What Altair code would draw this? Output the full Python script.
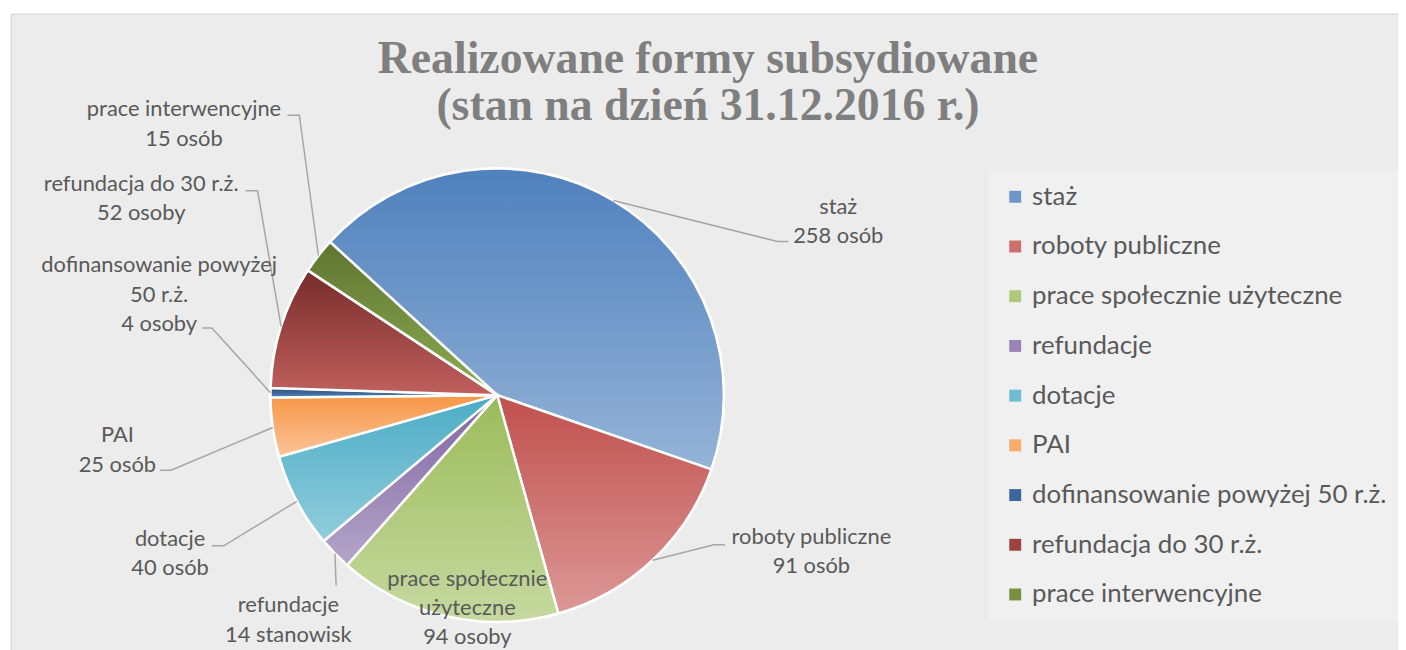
import math
import altair as alt
import pandas as pd

# ---------------- data ----------------
categories = [
    "staż",
    "roboty publiczne",
    "prace społecznie użyteczne",
    "refundacje",
    "dotacje",
    "PAI",
    "dofinansowanie powyżej 50 r.ż.",
    "refundacja do 30 r.ż.",
    "prace interwencyjne",
]
values = [258, 91, 94, 14, 40, 25, 4, 52, 15]
label_lines = [
    ["staż", "258 osób"],
    ["roboty publiczne", "91 osób"],
    ["prace społecznie", "użyteczne", "94 osoby"],
    ["refundacje", "14 stanowisk"],
    ["dotacje", "40 osób"],
    ["PAI", "25 osób"],
    ["dofinansowanie powyżej", "50 r.ż.", "4 osoby"],
    ["refundacja do 30 r.ż.", "52 osoby"],
    ["prace interwencyjne", "15 osób"],
]
title_lines = ["Realizowane formy subsydiowane", "(stan na dzień 31.12.2016 r.)"]

# ---------------- styles ----------------
colors_legend = ["#6f96c9", "#cc6f6d", "#afc97a", "#9a84b5", "#6fbdd2",
                 "#f8ab6b", "#3c65a0", "#9e4240", "#76903f"]
colors_top = ["#4f81bd", "#c0504d", "#9bbb59", "#8064a2", "#4bacc6",
              "#f79646", "#2c4d75", "#772c2a", "#5f7530"]
colors_bottom = ["#95b3d7", "#dc9896", "#c6d9a0", "#b4a5c9", "#92cddc",
                 "#fbc49a", "#4f81bd", "#c0605d", "#8cab52"]

TEXT = "#595959"
LEADER = "#a6a6a6"
FONT = "Lato"

# layout (page pixels); view origin on the page
OX, OY = 11, 12
CX, CY, R = 500, 395.5, 228
START_DEG = -47.5
LINE_H = 29.5
# label anchor (centre of first line) and leader elbow/tail, page pixels
label_pos = [(843, 206), (816, 538), (470, 580), (290, 607), (171, 540),
             (118, 436), (160, 265), (142, 183), (185, 108)]
leader_pts = [(782, 241, 793), (718, 546, 729), None, (338, 587, 338),
              (225, 547, 213), (172, 471, 161), (213, 328, 203),
              (259, 190, 247), (301, 114, 289)]

W, H = 1395, 646

# ---------------- tables ----------------
total = sum(values)
cum = 0
rows = []
for i, (c, v) in enumerate(zip(categories, values)):
    rows.append({"cat": c, "value": v, "start": cum, "end": cum + v, "order": i})
    cum += v
df = pd.DataFrame(rows)

a0 = math.radians(START_DEG)
theta_scale = alt.Scale(domain=[0, total], range=[a0, a0 + 2 * math.pi])

cx, cy = CX - OX, CY - OY

line_rows = []
for i, r in df.iterrows():
    if leader_pts[i] is None:
        continue
    mid = a0 + (r["start"] + r["value"] / 2) / total * 2 * math.pi
    ex = cx + R * math.sin(mid)
    ey = cy - R * math.cos(mid)
    bx, by, tx = leader_pts[i]
    pts = [(ex, ey), (bx - OX, by - OY), (tx - OX, by - OY)]
    for k, (px, py) in enumerate(pts):
        line_rows.append({"cat": r["cat"], "k": k, "x": px, "y": py})
lines_df = pd.DataFrame(line_rows)

text_rows = []
for i, lines in enumerate(label_lines):
    lx, ly = label_pos[i]
    for j, t in enumerate(lines):
        text_rows.append({"t": t, "x": lx - OX, "y": ly - OY + j * LINE_H})
text_df = pd.DataFrame(text_rows)

title_df = pd.DataFrame({"t": title_lines,
                         "x": [712 - OX, 712 - OX],
                         "y": [72 - OY, 119 - OY]})

# ---------------- chart ----------------
base = alt.Chart(df)

arc_kw = dict(x=cx, y=cy, outerRadius=R, stroke="white", strokeWidth=2.5)

solid = base.mark_arc(**arc_kw).encode(
    theta=alt.Theta("start:Q", scale=theta_scale),
    theta2="end:Q",
    color=alt.Color(
        "cat:N",
        scale=alt.Scale(domain=categories, range=colors_legend),
        sort=categories,
        legend=alt.Legend(
            title=None, orient="none", legendX=983, legendY=157,
            symbolType="square", symbolSize=144, symbolStrokeWidth=0,
            labelFont=FONT, labelFontSize=26, labelColor=TEXT,
            labelOffset=4, labelLimit=600, rowPadding=24, padding=14,
            fillColor="#f0f0f0",
        ),
    ),
)

grad_layers = []
for i, c in enumerate(categories):
    g = alt.LinearGradient(
        gradient="linear", x1=0, y1=0, x2=0, y2=1,
        stops=[alt.GradientStop(color=colors_top[i], offset=0),
               alt.GradientStop(color=colors_bottom[i], offset=1)],
    )
    grad_layers.append(
        base.transform_filter(alt.datum.cat == c)
        .mark_arc(fill=g, **arc_kw)
        .encode(theta=alt.Theta("start:Q", scale=theta_scale), theta2="end:Q")
    )

leaders = alt.Chart(lines_df).mark_line(color=LEADER, strokeWidth=1.5).encode(
    x=alt.X("x:Q", scale=None, axis=None),
    y=alt.Y("y:Q", scale=None, axis=None),
    detail="cat:N",
    order="k:Q",
)

labels = alt.Chart(text_df).mark_text(
    font=FONT, fontSize=22, color=TEXT, align="center", baseline="middle"
).encode(
    x=alt.X("x:Q", scale=None, axis=None),
    y=alt.Y("y:Q", scale=None, axis=None),
    text="t:N",
)

title = alt.Chart(title_df).mark_text(
    font="Liberation Serif", fontSize=46, fontWeight="bold", color="#7f7f7f",
    align="center", baseline="alphabetic"
).encode(
    x=alt.X("x:Q", scale=None, axis=None),
    y=alt.Y("y:Q", scale=None, axis=None),
    text="t:N",
)

chart = alt.layer(solid, *grad_layers, leaders, labels, title).properties(
    width=W, height=H,
    padding={"left": 3, "top": 4, "right": 0, "bottom": 0},
    autosize=alt.AutoSizeParams(type="none"),
    background="white",
).configure_view(fill="#ececec", stroke="#d6d6d6", strokeWidth=1.2)

chart.save("out.html", embed_options={"renderer": "svg", "actions": False})
